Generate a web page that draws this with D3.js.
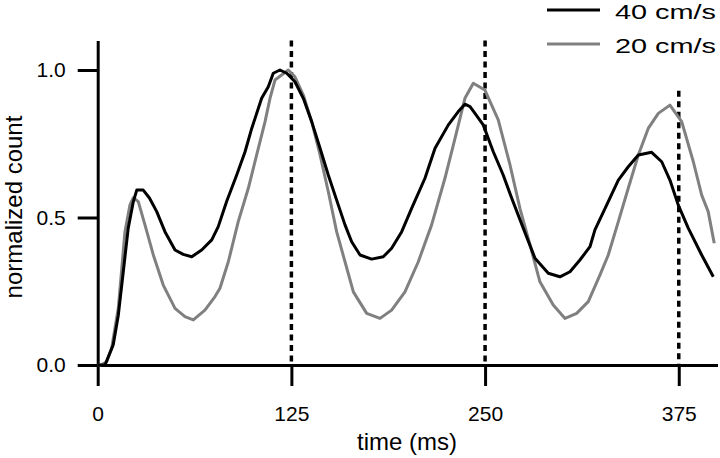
<!DOCTYPE html>
<html>
<head>
<meta charset="utf-8">
<script src="https://cdn.jsdelivr.net/npm/d3@7"></script>
<style>
  body { margin: 0; background: #fff; }
  svg { display: block; font-family: "Liberation Sans", Arial, sans-serif; }
</style>
</head>
<body>
<svg id="chart" width="720" height="458"></svg>
<script>
// ---- data ----
const time40 = [0, 3, 4.7, 10, 13.3, 16.5, 19.7, 23, 25.2, 29.4, 33.4, 38.1, 43.4, 49.9, 55.2, 60.7, 67.1, 73.6, 77.8, 83.2, 89.7, 95.1, 99.4, 105.8, 110.1, 113.3, 117.6, 122, 127.3, 132.7, 138.1, 143.5, 148.8, 155.3, 159.6, 163.9, 169.3, 176.8, 184.3, 189.7, 196.2, 202.6, 211.2, 217.7, 226.3, 232.7, 237, 240.3, 243.5, 248.8, 255.3, 261.7, 267.2, 274.7, 282.2, 290.8, 298.3, 304.8, 311.2, 317.7, 320.9, 329.5, 336, 342.4, 348.9, 357.5, 364, 369.3, 374.7, 381.2, 389.8, 397.3];
const count40 = [0, 0, 0, 0.068, 0.169, 0.316, 0.464, 0.554, 0.593, 0.593, 0.566, 0.520, 0.452, 0.390, 0.375, 0.367, 0.390, 0.424, 0.469, 0.554, 0.644, 0.723, 0.802, 0.904, 0.943, 0.989, 1.0, 0.989, 0.960, 0.904, 0.825, 0.735, 0.644, 0.542, 0.475, 0.418, 0.373, 0.359, 0.367, 0.396, 0.452, 0.531, 0.633, 0.735, 0.814, 0.859, 0.884, 0.876, 0.853, 0.814, 0.723, 0.644, 0.565, 0.463, 0.362, 0.311, 0.299, 0.316, 0.356, 0.401, 0.458, 0.554, 0.627, 0.672, 0.712, 0.721, 0.689, 0.627, 0.542, 0.463, 0.373, 0.299];

const time20 = [0, 2, 5.8, 9, 13.3, 17.6, 20.8, 23, 26.2, 30.5, 35.9, 42.3, 49.9, 56.3, 61.7, 69.2, 75.7, 78.9, 84.3, 90.7, 97.2, 102.6, 108, 111.2, 114.4, 118.7, 123, 127.3, 132.7, 138.1, 143.5, 148.8, 154.2, 159.6, 165, 173.6, 182.2, 189.7, 198.3, 206.9, 215.5, 224.1, 230.6, 237, 242.4, 249.9, 258.5, 266.1, 272.5, 279, 285.4, 294, 301.6, 309.1, 316.6, 324.1, 329.5, 336, 342.4, 348.9, 355.3, 361.8, 369.3, 376.9, 384.4, 389.8, 394, 397.9];
const count20 = [0, 0, 0.011, 0.057, 0.193, 0.452, 0.542, 0.567, 0.554, 0.475, 0.373, 0.271, 0.192, 0.164, 0.153, 0.186, 0.232, 0.260, 0.350, 0.486, 0.599, 0.712, 0.825, 0.904, 0.966, 0.983, 1.0, 0.977, 0.915, 0.825, 0.712, 0.588, 0.452, 0.350, 0.248, 0.175, 0.158, 0.186, 0.248, 0.350, 0.475, 0.633, 0.768, 0.904, 0.955, 0.932, 0.831, 0.678, 0.531, 0.407, 0.282, 0.203, 0.158, 0.175, 0.215, 0.305, 0.373, 0.486, 0.599, 0.712, 0.802, 0.853, 0.881, 0.825, 0.689, 0.576, 0.520, 0.413];

const seriesNames = ["40 cm/s", "20 cm/s"];
const seriesColors = ["#000000", "#808080"];

const xTicks = [0, 125, 250, 375];
const yTicks = [0, 0.5, 1.0];
const markerTimes = [125, 250, 375];
const markerTops = [1.1, 1.1, 0.93];

// ---- layout ----
const svg = d3.select("#chart");
const x = d3.scaleLinear().domain([0, 400]).range([97.7, 717.5]);
const y = d3.scaleLinear().domain([0, 1.1]).range([365, 40.5]);

// axes
const xAxis = d3.axisBottom(x).tickValues(xTicks).tickFormat(d3.format("d"))
  .tickSize(21).tickSizeOuter(0).tickPadding(20);
const yAxis = d3.axisLeft(y).tickValues(yTicks).tickFormat(d3.format(".1f"))
  .tickSize(20).tickSizeOuter(0).tickPadding(12);

const gx = svg.append("g").attr("transform", "translate(0,365)").call(xAxis);
const gy = svg.append("g").attr("transform", "translate(97.7,0)").call(yAxis);
[gx, gy].forEach(g => {
  g.selectAll("path.domain").attr("stroke", "#000").attr("stroke-width", 3);
  g.selectAll(".tick line").attr("stroke", "#000").attr("stroke-width", 3);
  g.selectAll(".tick text").attr("fill", "#000").attr("font-size", 21)
    .attr("font-family", "Liberation Sans, Arial, sans-serif");
});

// dashed marker lines
svg.append("g").selectAll("line").data(markerTimes).join("line")
  .attr("x1", d => x(d)).attr("x2", d => x(d))
  .attr("y1", (d, i) => y(markerTops[i])).attr("y2", y(0))
  .attr("stroke", "#000").attr("stroke-width", 3.5)
  .attr("stroke-dasharray", "6,4.5");

// lines
const line = d3.line().x(d => x(d[0])).y(d => y(d[1]));
const data20 = time20.map((t, i) => [t, count20[i]]);
const data40 = time40.map((t, i) => [t, count40[i]]);
svg.append("path").datum(data20).attr("d", line)
  .attr("fill", "none").attr("stroke", seriesColors[1]).attr("stroke-width", 3)
  .attr("stroke-linejoin", "round");
svg.append("path").datum(data40).attr("d", line)
  .attr("fill", "none").attr("stroke", seriesColors[0]).attr("stroke-width", 3)
  .attr("stroke-linejoin", "round");

// axis titles
svg.append("text").attr("x", 407).attr("y", 450).attr("text-anchor", "middle")
  .attr("font-size", 24).attr("fill", "#000").text("time (ms)");
svg.append("text").attr("transform", "translate(22,207) rotate(-90)")
  .attr("text-anchor", "middle").attr("font-size", 24).attr("fill", "#000")
  .text("normalized count");

// legend
const legY = [10, 44];
const leg = svg.append("g");
seriesNames.forEach((name, i) => {
  leg.append("line").attr("x1", 547).attr("x2", 600).attr("y1", legY[i]).attr("y2", legY[i])
    .attr("stroke", seriesColors[i]).attr("stroke-width", 3);
  leg.append("text").attr("x", 615).attr("y", legY[i] + 9)
    .attr("font-size", 21).attr("fill", "#000")
    .attr("textLength", 101).attr("lengthAdjust", "spacingAndGlyphs")
    .text(name);
});
</script>
</body>
</html>
